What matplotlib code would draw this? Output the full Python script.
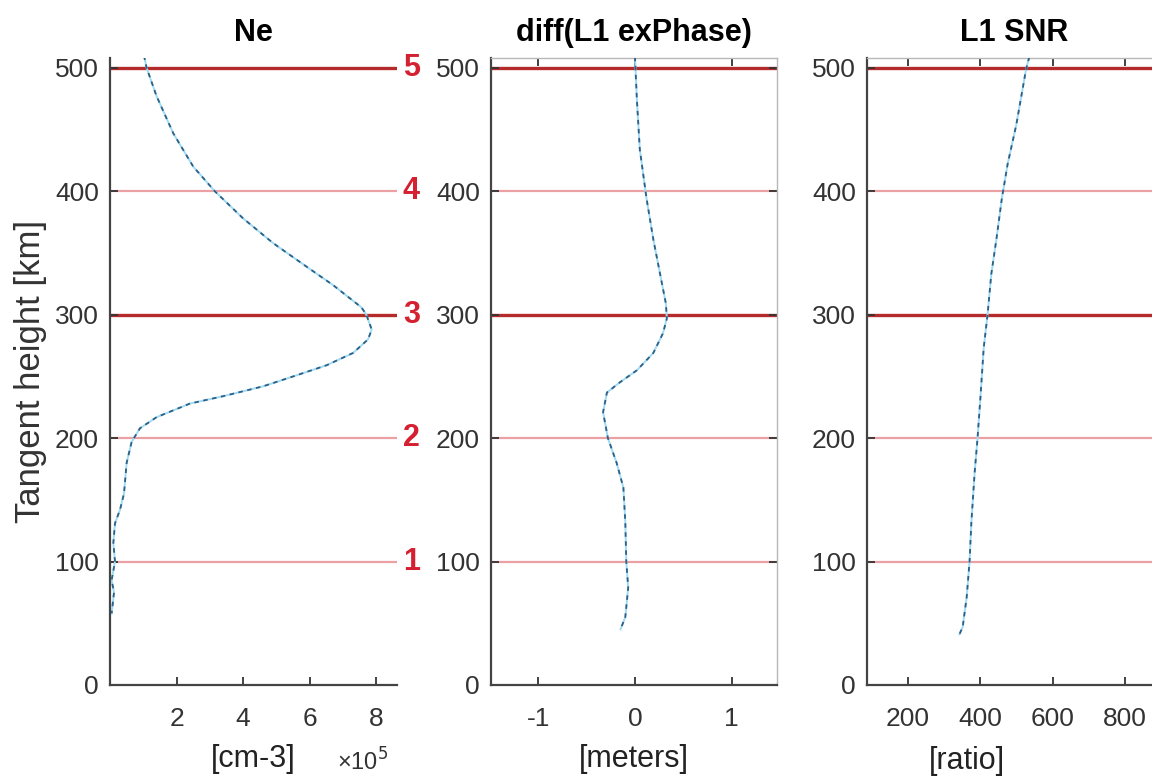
import numpy as np
import matplotlib.pyplot as plt
from matplotlib.ticker import FuncFormatter

plt.rcParams['font.family'] = ['Liberation Sans', 'DejaVu Sans']
plt.rcParams['axes.unicode_minus'] = False

# electron density profile, [cm-3]
ne_h = [510, 500, 477, 447, 420, 400, 378, 358, 339, 324, 306, 300, 288, 280, 269,
        259, 250, 242, 234, 228, 217, 208, 197, 180, 155, 142, 131, 115, 100, 85, 75, 58]
ne_val = np.array([1.02, 1.10, 1.40, 1.90, 2.50, 3.15, 4.0, 4.9, 5.9, 6.7, 7.55, 7.7, 7.86,
                   7.75, 7.3, 6.5, 5.5, 4.6, 3.4, 2.4, 1.4, 0.9, 0.65, 0.5, 0.42, 0.3, 0.15,
                   0.1, 0.15, 0.05, 0.12, 0.05]) * 1e5

# diff(L1 exPhase), [meters]
ph_h = [509, 474, 434, 394, 361, 333, 309, 297, 285, 269, 255, 245, 237, 221, 200,
        180, 160, 132, 100, 79, 55, 45]
ph_val = [0.0, 0.02, 0.05, 0.12, 0.19, 0.26, 0.32, 0.33, 0.29, 0.19, 0.02, -0.16, -0.29,
          -0.33, -0.28, -0.19, -0.12, -0.10, -0.09, -0.07, -0.10, -0.15]

# L1 SNR, [ratio]
snr_h = [509, 499, 454, 422, 394, 361, 333, 301, 273, 233, 200, 172, 132, 100, 71, 47, 41]
snr_val = [536, 527, 500, 476, 460, 445, 431, 421, 410, 401, 393, 385, 376, 371, 363, 352, 343]

levels = [100, 200, 300, 400, 500]
level_names = ['1', '2', '3', '4', '5']
strong = [300, 500]

W, H = 1152, 780
fig = plt.figure(figsize=(W / 100, H / 100), dpi=100)

def pos(l, r):
    return [l / W, (H - 685) / H, (r - l) / W, (685 - 58) / H]

ax1 = fig.add_axes(pos(110, 397))
ax2 = fig.add_axes(pos(491, 777))
ax3 = fig.add_axes(pos(867, 1162))

tick_fs = 19
for ax in (ax1, ax2, ax3):
    for lv in levels:
        if lv in strong:
            ax.axhline(lv, color='#b52a2a', lw=2.4, zorder=1)
        else:
            ax.axhline(lv, color='#eba0a4', lw=1.6, zorder=1)
    ax.set_ylim(0, 508)
    ax.set_yticks([0, 100, 200, 300, 400, 500])
    ax.tick_params(direction='in', length=6, width=1.3, colors='#333333',
                   labelsize=tick_fs, pad=8)
    ax.tick_params(axis='x', pad=16)
    for s in ('left', 'bottom'):
        ax.spines[s].set_color('#444444')
        ax.spines[s].set_linewidth(1.6)

def curve(ax, x, y):
    ax.plot(x, y, color='#9fdcf2', lw=1.4, zorder=2)
    ax.plot(x, y, color='#2f5f86', lw=1.3, ls=(0, (2.5, 2.5)), zorder=3)

curve(ax1, ne_val, ne_h)
curve(ax2, ph_val, ph_h)
curve(ax3, snr_val, snr_h)

# Ne panel: no box
ax1.spines['top'].set_visible(False)
ax1.spines['right'].set_visible(False)
ax1.set_xlim(0, 8.62e5)
ax1.set_xticks([2e5, 4e5, 6e5, 8e5])
ax1.xaxis.set_major_formatter(FuncFormatter(lambda v, p: '%g' % (v / 1e5)))
ax1.set_title('Ne', fontsize=22, fontweight='bold', pad=12)
ax1.set_xlabel('[cm-3]', fontsize=22, color='#222222', labelpad=9)
ax1.set_ylabel('Tangent height [km]', fontsize=25, color='#333333', labelpad=6)
ax1.text(0.88, -0.123, '×10$^5$', transform=ax1.transAxes, fontsize=17,
         color='#333333', ha='center', va='center')
for lv, nm in zip(levels, level_names):
    ax1.text(1.05, lv, nm, transform=ax1.get_yaxis_transform(), color='#d42030',
             fontsize=22, fontweight='bold', ha='center', va='center', clip_on=False)

for ax in (ax2, ax3):
    ax.tick_params(top=True, right=True)
    for s in ('top', 'right'):
        ax.spines[s].set_color('#b8b8b8')
        ax.spines[s].set_linewidth(1.0)

ax2.set_xlim(-1.49, 1.47)
ax2.set_xticks([-1, 0, 1])
ax2.set_title('diff(L1 exPhase)', fontsize=22, fontweight='bold', pad=12)
ax2.set_xlabel('[meters]', fontsize=22, color='#222222', labelpad=9)

ax3.set_xlim(88, 902)
ax3.set_xticks([200, 400, 600, 800])
ax3.set_title('L1 SNR', fontsize=22, fontweight='bold', pad=12)
ax3.set_xlabel('[ratio]', fontsize=22, color='#222222', labelpad=9)
ax3.xaxis.set_label_coords(0.34, -0.097)

fig.savefig('out.png', dpi=100)
